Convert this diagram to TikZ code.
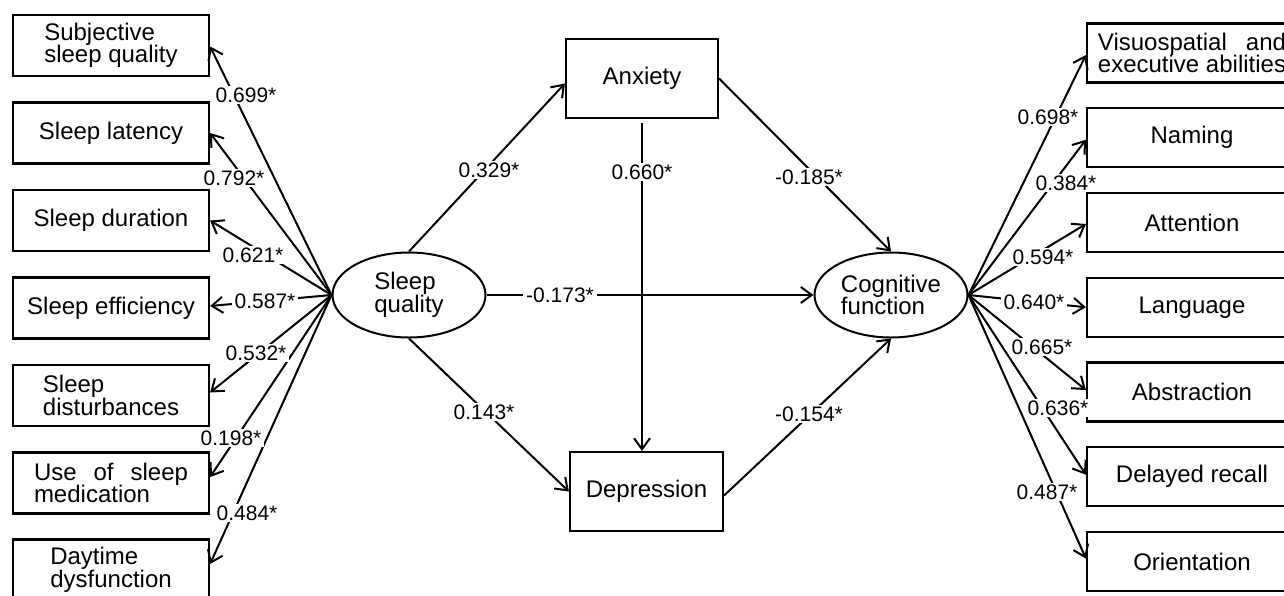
\documentclass[tikz,border=0pt]{standalone}
\usepackage{fontspec}
\setmainfont{Liberation Sans}
\usetikzlibrary{arrows.meta,shapes.geometric}
\newsavebox\refbox
\begin{document}
\begin{tikzpicture}[x=1pt,y=-1pt,
  txt/.style={font=\fontsize{24}{22.5}\selectfont},
  boxL/.style={txt,draw,line width=2.2pt,minimum width=196pt,minimum height=61pt,inner sep=0pt,align=left},
  boxR/.style={txt,draw,line width=2.2pt,minimum width=210pt,minimum height=59pt,inner sep=0pt,align=left},
  boxC/.style={txt,draw,line width=2.2pt,minimum width=152pt,minimum height=79pt,inner sep=0pt},
  ell/.style={txt,draw,ellipse,line width=2pt,minimum width=153pt,minimum height=85pt,inner sep=0pt,align=left},
  arr/.style={line width=2pt,-{Straight Barb[length=11pt,width=16pt]}},
  lbl/.style={fill=white,inner xsep=3pt,inner ysep=1.5pt,font=\fontsize{21}{21}\selectfont}]
\useasboundingbox (0,0) rectangle (1284,595);
\clip (0,0) rectangle (1284,595);
\fill[white] (0,0) rectangle (1284,595);

% left indicator boxes
\node[boxL] (s1) at (111,45.5) {Subjective\\sleep quality};
\node[boxL] (s2) at (111,133) {Sleep latency};
\node[boxL] (s3) at (111,220.5) {Sleep duration};
\node[boxL] (s4) at (111,308) {Sleep efficiency};
\node[boxL] (s5) at (111,395.5) {Sleep\\disturbances};
\node[boxL] (s6) at (111,483) {\hbox to 154pt{Use\hfill of\hfill sleep}\\medication};
\node[boxL] (s7) at (111,570) {Daytime\\dysfunction};

% right indicator boxes
\node[boxR] (c1) at (1192,53) {\sbox\refbox{executive abilities}\hbox to \wd\refbox{Visuospatial\hfill and}\\executive abilities};
\node[boxR] (c2) at (1192,137.75) {Naming};
\node[boxR] (c3) at (1192,222.5) {Attention};
\node[boxR] (c4) at (1192,307.25) {Language};
\node[boxR] (c5) at (1192,392) {Abstraction};
\node[boxR] (c6) at (1192,476.75) {Delayed recall};
\node[boxR] (c7) at (1192,561.5) {Orientation};

% central nodes
\node[ell] (SQ) at (409,295) {Sleep\\quality};
\node[ell] (CF) at (891,295) {Cognitive\\function};
\node[boxC] (Anx) at (642,78.5) {Anxiety};
\node[boxC,minimum width=153pt] (Dep) at (646.5,491.5) {Depression};

% left fan
\draw[arr] (SQ.west) -- ([yshift=-1pt]s1.east);
\draw[arr] (SQ.west) -- (s2.east);
\draw[arr] (SQ.west) -- (s3.east);
\draw[arr] (SQ.west) -- ([yshift=2pt]s4.east);
\draw[arr] (SQ.west) -- ([yshift=3pt]s5.east);
\draw[arr] (SQ.west) -- ([yshift=6pt]s6.east);
\draw[arr] (SQ.west) -- ([yshift=6pt]s7.east);

% right fan
\draw[arr] (CF.east) -- ([yshift=-2pt]c1.west);
\draw[arr] (CF.east) -- ([yshift=-2pt]c2.west);
\draw[arr] (CF.east) -- ([yshift=-1.5pt]c3.west);
\draw[arr] (CF.east) -- (c4.west);
\draw[arr] (CF.east) -- ([yshift=2pt]c5.west);
\draw[arr] (CF.east) -- ([yshift=2pt]c6.west);
\draw[arr] (CF.east) -- ([yshift=3pt]c7.west);

% structural paths
\draw[arr] (SQ.north) -- ([yshift=-5pt]Anx.west);
\draw[arr] (Anx.east) -- (CF.north);
\draw[arr,shorten <=4pt] (Anx.south) -- (Anx.south |- Dep.north);
\draw[arr] (SQ.south) -- (Dep.west);
\draw[arr] ([yshift=-4pt]Dep.east) -- (CF.south);
\draw[arr] (SQ.east) -- (CF.west);

% labels
\node[lbl] (l1) at (246,95) {0.699*};
\node[lbl] (l2) at (234,178) {0.792*};
\node[lbl] (l3) at (253,255) {0.621*};
\node[lbl] (l4) at (265,301) {0.587*};
\node[lbl] (l5) at (256,353) {0.532*};
\node[lbl] (l6) at (231,438) {0.198*};
\node[lbl] (l7) at (247,513) {0.484*};

\node[lbl] (r1) at (1048,117) {0.698*};
\node[lbl] (r2) at (1066,183) {0.384*};
\node[lbl] (r3) at (1043,257) {0.594*};
\node[lbl] (r4) at (1034,302) {0.640*};
\node[lbl] (r5) at (1042,347) {0.665*};
\node[lbl] (r6) at (1058,408) {0.636*};
\node[lbl] (r7) at (1047,492) {0.487*};

\node[lbl] (m1) at (489,170) {0.329*};
\node[lbl] (m2) at (642,172) {0.660*};
\node[lbl] (m3) at (809,177) {-0.185*};
\node[lbl] (m4) at (560,295) {-0.173*};
\node[lbl] (m5) at (484,412) {0.143*};
\node[lbl] (m6) at (809,414) {-0.154*};
\end{tikzpicture}
\end{document}
